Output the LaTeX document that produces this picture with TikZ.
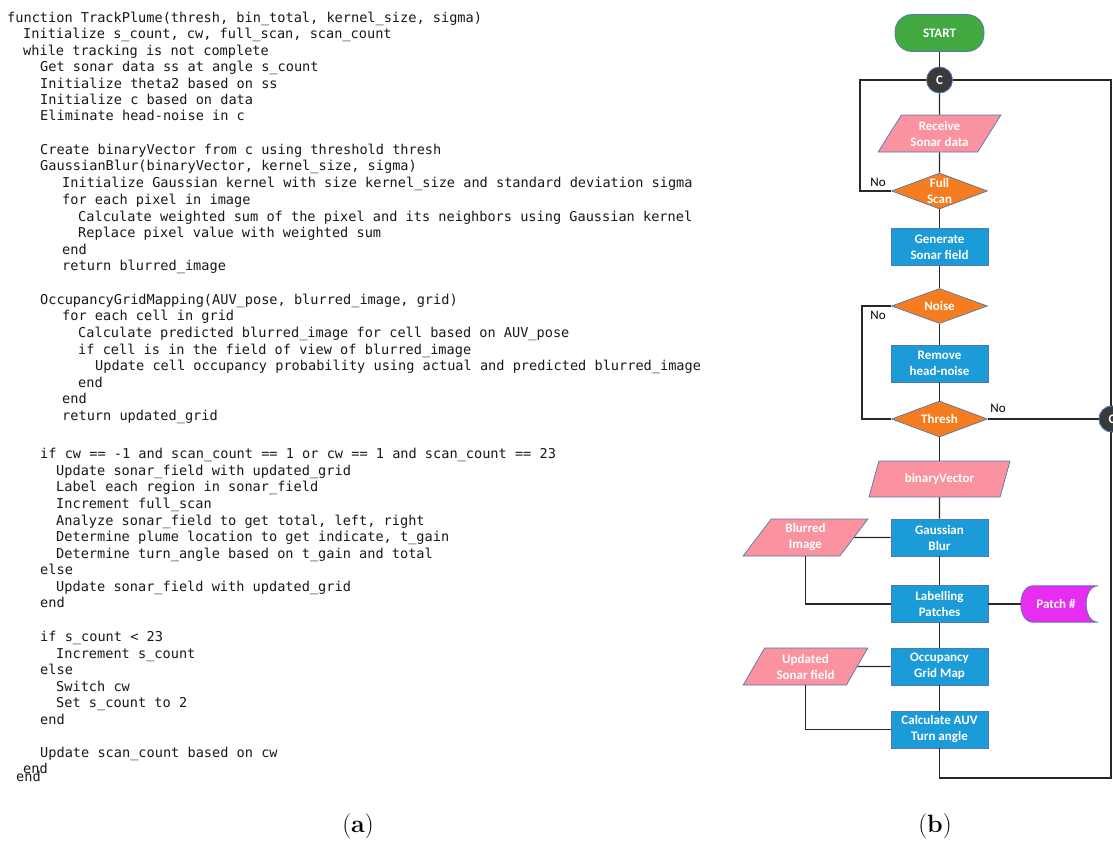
\documentclass[tikz,border=0pt]{standalone}
\usepackage{fontspec}
\usetikzlibrary{shapes.geometric,calc}
\newfontfamily\codefont{DejaVu Sans Mono}
\newfontfamily\flowfont{Carlito}
\definecolor{startgreen}{RGB}{66,168,64}
\definecolor{conndark}{RGB}{58,58,58}
\definecolor{iopink}{RGB}{250,146,160}
\definecolor{decorange}{RGB}{245,125,32}
\definecolor{procblue}{RGB}{27,155,215}
\definecolor{patchmag}{RGB}{230,45,240}
\definecolor{edgeblue}{RGB}{80,120,180}
\definecolor{linedark}{RGB}{40,40,40}
\definecolor{codeink}{RGB}{25,25,25}
\begin{document}
\begin{tikzpicture}[x=1pt,y=-1pt,
  code/.style={font=\codefont\fontsize{13.6}{16}\selectfont, text=codeink, anchor=west, inner sep=0pt, text height=10pt, text depth=3pt},
  ftext/.style={font=\flowfont\bfseries\fontsize{13}{16}\selectfont, text=white, align=center},
  proc/.style={ftext, rectangle, fill=procblue, draw=edgeblue, line width=0.7pt, minimum width=97pt, minimum height=37pt, inner sep=0pt},
  dec/.style={diamond, fill=decorange, draw=edgeblue, line width=0.7pt, minimum width=96pt, minimum height=36pt, inner sep=0pt},
  dectext/.style={ftext},
  io/.style={ftext, trapezium, trapezium stretches=true, fill=iopink, draw=edgeblue, line width=0.7pt, inner sep=0pt},
  conn/.style={circle, fill=conndark, draw=edgeblue, line width=0.8pt, minimum size=26pt, inner sep=0pt, text=white, font=\flowfont\bfseries\fontsize{13}{15}\selectfont},
  nolabel/.style={font=\flowfont\fontsize{13}{15}\selectfont, text=black, inner sep=0pt},
  link/.style={draw=linedark, line width=1.3pt},
  caption/.style={font=\fontsize{25}{28}\selectfont, inner sep=0pt}
]
\useasboundingbox (0,0) rectangle (1113,841);
\fill[white] (0,0) rectangle (1113,841);

% ---------- code listing (a) ----------
\node[code] (l1) at (7,19) {function TrackPlume(thresh, bin\_total, kernel\_size, sigma)};
\node[code] (l2) at (23,35) {Initialize s\_count, cw, full\_scan, scan\_count};
\node[code] (l3) at (23,51.5) {while tracking is not complete};
\node[code] (l4) at (40,68) {Get sonar data ss at angle s\_count};
\node[code] (l5) at (40,85) {Initialize theta2 based on ss};
\node[code] (l6) at (40,101) {Initialize c based on data};
\node[code] (l7) at (40,117) {Eliminate head-noise in c};
\node[code] (l8) at (40,151) {Create binaryVector from c using threshold thresh};
\node[code] (l9) at (40,167) {GaussianBlur(binaryVector, kernel\_size, sigma)};
\node[code] (l10) at (62,184) {Initialize Gaussian kernel with size kernel\_size and standard deviation sigma};
\node[code] (l11) at (62,201) {for each pixel in image};
\node[code] (l12) at (78,217.5) {Calculate weighted sum of the pixel and its neighbors using Gaussian kernel};
\node[code] (l13) at (78,234) {Replace pixel value with weighted sum};
\node[code] (l14) at (62,251) {end};
\node[code] (l15) at (62,267) {return blurred\_image};
\node[code] (l16) at (40,300.5) {OccupancyGridMapping(AUV\_pose, blurred\_image, grid)};
\node[code] (l17) at (62,317) {for each cell in grid};
\node[code] (l18) at (78,334) {Calculate predicted blurred\_image for cell based on AUV\_pose};
\node[code] (l19) at (78,350.5) {if cell is in the field of view of blurred\_image};
\node[code] (l20) at (95,367) {Update cell occupancy probability using actual and predicted blurred\_image};
\node[code] (l21) at (78,383.5) {end};
\node[code] (l22) at (62,400) {end};
\node[code] (l23) at (62,416.5) {return updated\_grid};
\node[code] (l24) at (40,455) {if cw == -1 and scan\_count == 1 or cw == 1 and scan\_count == 23};
\node[code] (l25) at (56,472) {Update sonar\_field with updated\_grid};
\node[code] (l26) at (56,488) {Label each region in sonar\_field};
\node[code] (l27) at (56,505) {Increment full\_scan};
\node[code] (l28) at (56,521.5) {Analyze sonar\_field to get total, left, right};
\node[code] (l29) at (56,538) {Determine plume location to get indicate, t\_gain};
\node[code] (l30) at (56,554.5) {Determine turn\_angle based on t\_gain and total};
\node[code] (l31) at (40,571) {else};
\node[code] (l32) at (56,587.5) {Update sonar\_field with updated\_grid};
\node[code] (l33) at (40,604) {end};
\node[code] (l34) at (40,638) {if s\_count < 23};
\node[code] (l35) at (56,654.5) {Increment s\_count};
\node[code] (l36) at (40,671) {else};
\node[code] (l37) at (56,687.5) {Switch cw};
\node[code] (l38) at (56,704) {Set s\_count to 2};
\node[code] (l39) at (40,720.5) {end};
\node[code] (l40) at (40,754) {Update scan\_count based on cw};
\node[code] (l41) at (23,770) {end};
\node[code] (l42) at (16,778) {end};

\node[caption] (capa) at (358,826) {(\textbf{a})};
\node[caption] (capb) at (935,826) {(\textbf{b})};

% ---------- flowchart (b) ----------
\coordinate (L1) at (860,80);
\coordinate (L3) at (862,306);
\coordinate (R1) at (1111,80);
\coordinate (R2) at (1111,778);

\node[proc, fill=startgreen, rounded corners=17pt, minimum width=89pt] (start) at (939.5,33) {START};
\node[conn] (c1) at (939.5,80) {C};
\node[io, minimum width=124pt, minimum height=37pt, trapezium left angle=55, trapezium right angle=125] (rs) at (939.5,133.5) {Receive\\Sonar data};
\node[dec] (fs) at (939.5,191) {};
\node[dectext] (fst) at (fs.center) {Full\\Scan};
\node[proc] (gsf) at (939.5,247) {Generate\\Sonar field};
\node[dec, minimum height=35pt] (noise) at (939.5,306) {};
\node[dectext] (noiset) at (noise.center) {Noise};
\node[proc] (rh) at (939.5,363.5) {Remove\\head-noise};
\node[dec] (th) at (939.5,419) {};
\node[dectext] (tht) at (th.center) {Thresh};
\node[io, minimum width=142pt, minimum height=36pt, trapezium left angle=63, trapezium right angle=117] (bv) at (939.5,479) {binaryVector};
\node[proc] (gb) at (939.5,537.5) {Gaussian\\Blur};
\node[io, minimum width=125pt, minimum height=37pt, trapezium left angle=59, trapezium right angle=121] (bi) at (805.5,537.5) {Blurred\\Image};
\node[proc] (lp) at (939.5,604) {Labelling\\Patches};
\node[proc] (og) at (939.5,666.5) {Occupancy\\Grid Map};
\node[io, minimum width=125pt, minimum height=37pt, trapezium left angle=59, trapezium right angle=121] (us) at (805.5,666.5) {Updated\\Sonar field};
\node[proc] (ca) at (939.5,729.5) {Calculate AUV\\Turn angle};

% Patch # (stored data symbol)
\node[ftext, minimum width=77pt, minimum height=36pt, inner sep=0pt] (pn) at (1059.5,604) {};
\filldraw[fill=patchmag, draw=edgeblue, line width=0.7pt]
  (pn.north east) -- ($(pn.north west)+(12,0)$)
  .. controls ($(pn.north west)+(-4,0)$) and ($(pn.south west)+(-4,0)$) .. ($(pn.south west)+(12,0)$)
  -- (pn.south east)
  .. controls ($(pn.south east)+(-16,0)$) and ($(pn.north east)+(-16,0)$) .. (pn.north east) -- cycle;
\node[ftext] (pnt) at (1056,604) {Patch \#};

\node[conn] (c2) at (1112,419) {C};

% connectors
\draw[link] (start) -- (c1);
\draw[link] (c1) -- (rs);
\draw[link] (rs) -- (fs);
\draw[link] (fs) -- (gsf);
\draw[link] (gsf) -- (noise);
\draw[link] (noise) -- (rh);
\draw[link] (rh) -- (th);
\draw[link] (th) -- (bv);
\draw[link] (bv) -- (gb);
\draw[link] (gb) -- (lp);
\draw[link] (lp) -- (og);
\draw[link] (og) -- (ca);
\draw[link] (c1.west) -- (L1) |- (fs.west);
\draw[link] (noise.west) -- (L3) |- (th.west);
\draw[link] (th.east) -- (c2.west);
\draw[link] (ca.south) |- (R2) -- (R1) -- (c1.east);
\draw[link] (bi.east) -- (gb.west);
\draw[link] (bi.south) |- (lp.west);
\draw[link] (us.east) -- (og.west);
\draw[link] (us.south) |- (ca.west);
\draw[link] (lp.east) -- (pn.west);

% redraw c2 over the right line
\node[conn] (c2b) at (c2.center) {C};

\node[nolabel] (no1) at (878,182) {No};
\node[nolabel] (no2) at (878,315) {No};
\node[nolabel] (no3) at (998,408) {No};
\end{tikzpicture}
\end{document}
